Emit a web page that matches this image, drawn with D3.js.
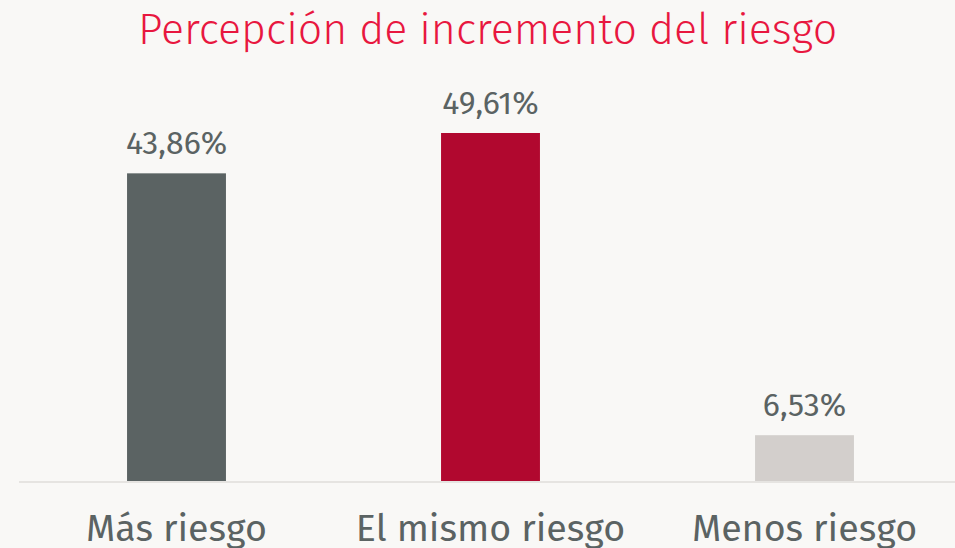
<!DOCTYPE html>
<html><head><meta charset="utf-8">
<script src="https://cdn.jsdelivr.net/npm/d3@7"></script>
<style>
html,body{margin:0;padding:0;background:#f9f8f6;}
svg{display:block;}
</style></head><body>
<svg id="c" width="955" height="548"></svg>
<script>
const categories = ["Más riesgo", "El mismo riesgo", "Menos riesgo"];
const values = [43.86, 49.61, 6.53];
const valueLabels = ["43,86%", "49,61%", "6,53%"];
const colors = ["#5b6363", "#b1082f", "#d3cfcc"];
const title = "Percepción de incremento del riesgo";

const svg = d3.select("#c");
svg.append("rect").attr("width",955).attr("height",548).attr("fill","#f9f8f6");

const x = d3.scaleBand().domain(categories).range([19.5, 961.5]).paddingInner(0.685).paddingOuter(0.3425);
const y = d3.scaleLinear().domain([0, 49.61]).range([481, 133]);

svg.append("line").attr("x1",19).attr("x2",955).attr("y1",482).attr("y2",482)
  .attr("stroke","#e6e4e1").attr("stroke-width",2);

svg.selectAll("rect.bar").data(categories).join("rect").attr("class","bar")
  .attr("x", d=>x(d)).attr("width", x.bandwidth())
  .attr("y", (d,i)=>y(values[i])).attr("height",(d,i)=>y(0)-y(values[i]))
  .attr("fill",(d,i)=>colors[i]);

svg.selectAll("text.val").data(categories).join("text").attr("class","val")
  .attr("x", d=>x(d)+x.bandwidth()/2).attr("y",(d,i)=>y(values[i])-19)
  .attr("text-anchor","middle").attr("font-family","'Fira Sans','Noto Sans',sans-serif")
  .attr("font-size",32).attr("fill","#5b6363").text((d,i)=>valueLabels[i]);

const xAxis = svg.append("g").attr("transform","translate(0,482)")
  .call(d3.axisBottom(x).tickSize(0).tickPadding(0));
xAxis.select(".domain").remove();
xAxis.selectAll("text").attr("dy",0).attr("y",59)
  .attr("font-family","'Fira Sans','Noto Sans',sans-serif").attr("font-size",37.6).attr("fill","#5b6363");

svg.append("text").attr("x",487.5).attr("y",44).attr("text-anchor","middle")
  .attr("font-family","'Fira Sans','Open Sans',sans-serif").attr("font-weight",300)
  .attr("font-size",42.9).attr("fill","#e8173f").text(title);
</script></body></html>
